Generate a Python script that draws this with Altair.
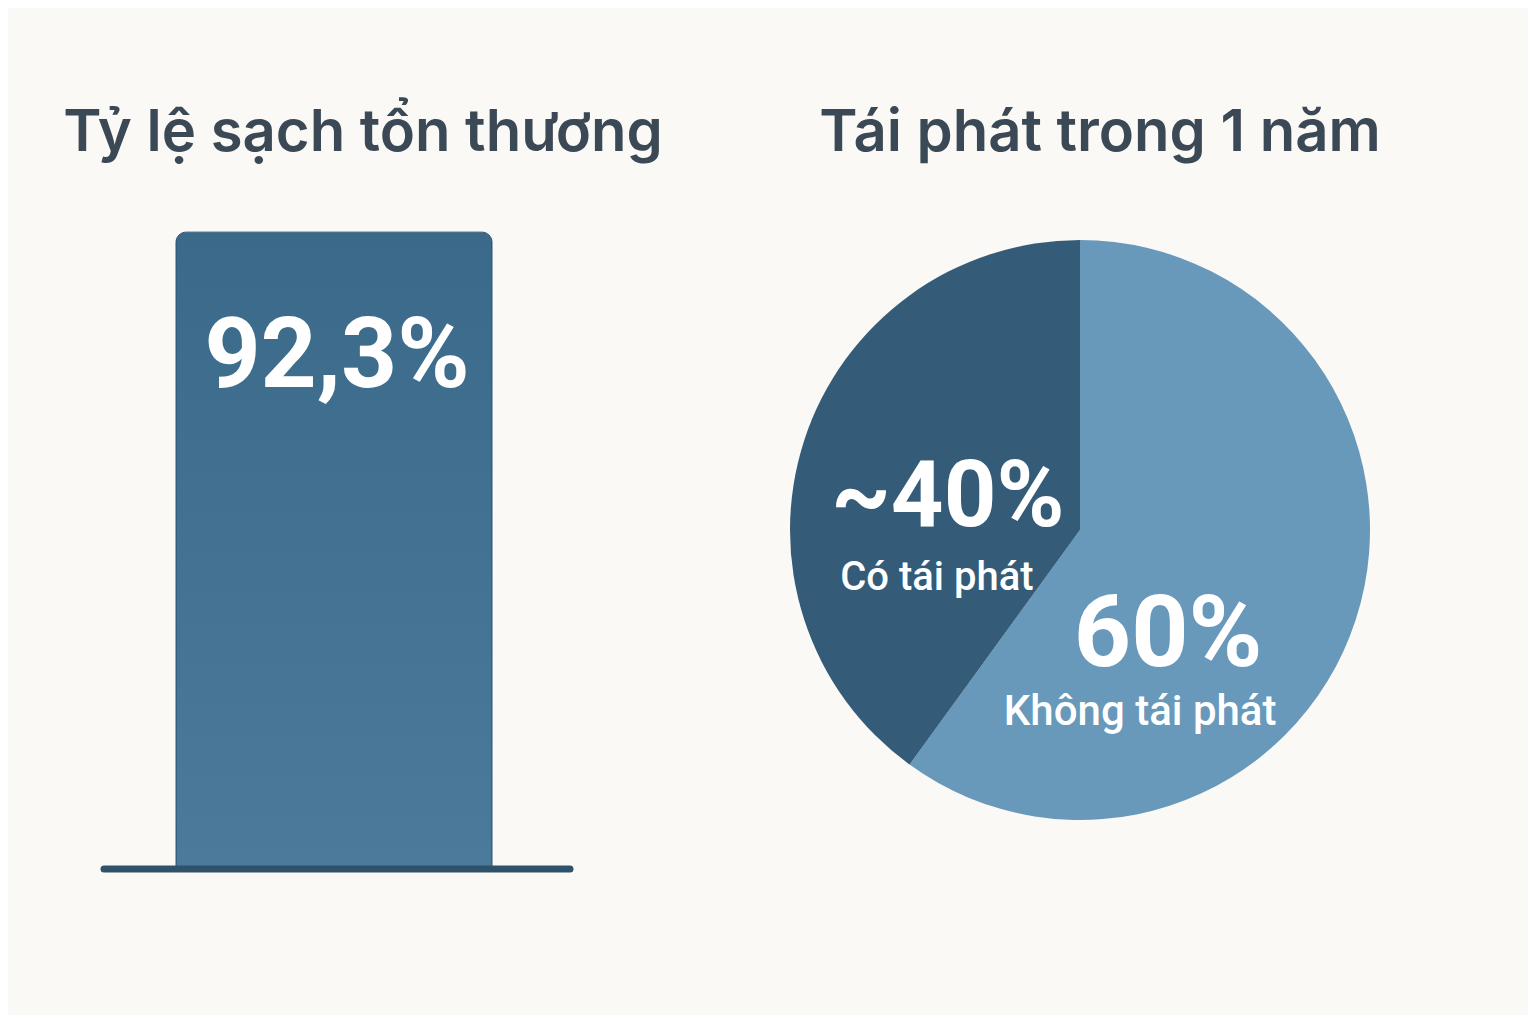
import altair as alt
import pandas as pd

# ---- data ----
bar_categories = ["Sạch tổn thương"]
bar_values = [92.3]
bar_labels = ["92,3%"]

pie_categories = ["Không tái phát", "Có tái phát"]
pie_values = [60, 40]
pie_big_labels = ["60%", "~40%"]
pie_order = [0, 1]

title_left = "Tỷ lệ sạch tổn thương"
title_right = "Tái phát trong 1 năm"

BG = "#faf9f5"
TITLE_COLOR = "#3b4855"
FONT = "Inter"
NUM_FONT = "Roboto"

bar_df = pd.DataFrame({"cat": bar_categories, "value": bar_values, "label": bar_labels})
pie_df = pd.DataFrame({"cat": pie_categories, "value": pie_values,
                       "big": pie_big_labels, "ord": pie_order})

# ---- left: bar ----
xenc = alt.X("cat:N", axis=None)
yscale = alt.Scale(domain=[0, 100], nice=False, zero=True)

bar = alt.Chart(bar_df).mark_bar(
    size=316,
    cornerRadiusTopLeft=10,
    cornerRadiusTopRight=10,
    stroke="#2f5b79",
    strokeWidth=1,
    color=alt.Gradient(
        gradient="linear",
        stops=[alt.GradientStop(color="#3a6989", offset=0),
               alt.GradientStop(color="#4b7a9a", offset=1)],
        x1=0, x2=0, y1=0, y2=1,
    ),
).encode(x=xenc, y=alt.Y("value:Q", scale=yscale, axis=None))

bar_text = alt.Chart(bar_df).mark_text(
    font=NUM_FONT, fontWeight=700, fontSize=98, color="white",
    baseline="middle", align="center", dy=126, dx=3,
).encode(x=xenc, y=alt.Y("value:Q", scale=yscale, axis=None), text="label:N")

baseline_rule = alt.Chart(bar_df).mark_rule(
    color="#2e5269", strokeWidth=7, strokeCap="round",
).encode(y=alt.datum(0, scale=yscale), x=alt.value(96), x2=alt.value(562))

left = alt.layer(bar, bar_text, baseline_rule).properties(
    width=652, height=690,
    title=alt.TitleParams(title_left, fontSize=58, font=FONT, fontWeight=600,
                          color=TITLE_COLOR, anchor="middle", dx=29, offset=16),
)

# ---- right: pie ----
theta = alt.Theta("value:Q", stack=True)
order = alt.Order("ord:Q", sort="ascending")
color = alt.Color("cat:N", legend=None,
                  scale=alt.Scale(domain=pie_categories, range=["#6899bb", "#345b77"]))

pie_base = alt.Chart(pie_df).encode(theta=theta, order=order)

arcs = pie_base.mark_arc(outerRadius=290).encode(color=color)

def label_layer(which, field, size, weight, dx, dy):
    return pie_base.transform_calculate(
        t=f"datum.cat == '{which}' ? datum.{field} : ''"
    ).mark_text(
        radius=140, font=NUM_FONT, fontSize=size, fontWeight=weight, color="white",
        align="center", baseline="middle", dx=dx, dy=dy,
    ).encode(text="t:N")

lab_dark_big = label_layer("Có tái phát", "big", 92, 700, 1, 11)
lab_dark_small = label_layer("Có tái phát", "cat", 40, 500, -10, 91)
lab_light_big = label_layer("Không tái phát", "big", 100, 700, -45, 63)
lab_light_small = label_layer("Không tái phát", "cat", 42, 500, -73, 139)

right = alt.layer(arcs, lab_dark_big, lab_dark_small, lab_light_big, lab_light_small).properties(
    width=800, height=702,
    title=alt.TitleParams(title_right, fontSize=58, font=FONT, fontWeight=600,
                          color=TITLE_COLOR, anchor="middle", dx=20, offset=16),
)

chart = alt.hconcat(left, right, spacing=20, bounds="flush").properties(
    padding={"top": 97, "left": 0, "right": 48, "bottom": 134},
    background=BG,
).configure_view(stroke=None)

chart.save("out.html", embed_options={"renderer": "svg", "actions": False})
